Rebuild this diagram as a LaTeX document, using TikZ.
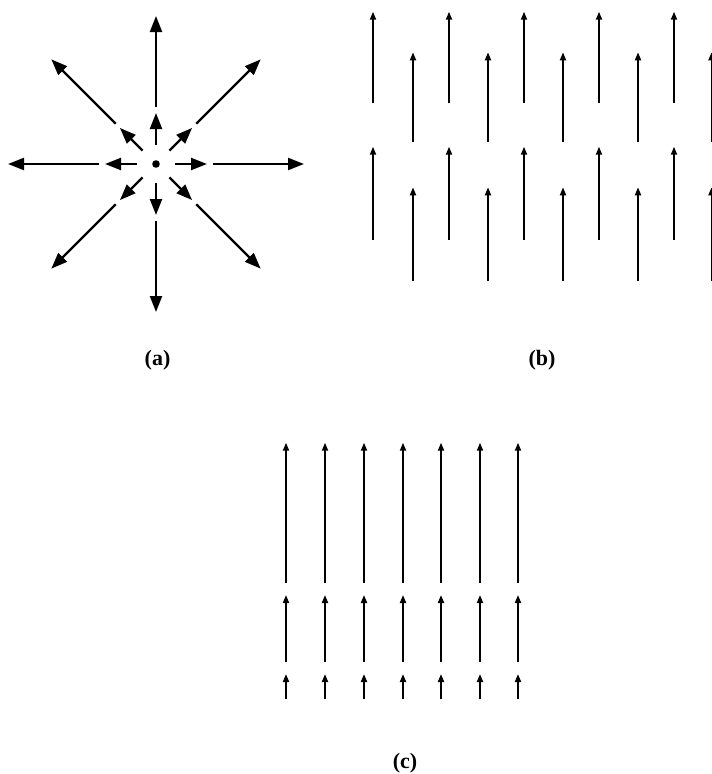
\documentclass[tikz,border=0pt]{standalone}
\usepackage{fontspec}
\setmainfont{Liberation Serif}
\usetikzlibrary{arrows.meta,calc}
\tikzset{
  bigarrow/.style={line width=2.2pt,-{Triangle[length=16pt,width=12pt]}},
  thinarrow/.style={line width=1.8pt,-{Triangle[length=8pt,width=6pt]}},
  caption/.style={font=\fontsize{22}{22}\selectfont\bfseries,inner sep=0pt}
}
\begin{document}
\begin{tikzpicture}[x=1pt,y=-1pt]
\useasboundingbox (0,0) rectangle (712,774);
\clip (0,0) rectangle (712,774);
% ---------- panel (a)
\coordinate (ca) at (156,164);
\fill (ca) circle (3.8pt);
\foreach \a in {0,45,...,315}{
  \coordinate (i1\a) at ($(ca)+(\a:19)$);
  \coordinate (i2\a) at ($(ca)+(\a:51)$);
  \coordinate (o1\a) at ($(ca)+(\a:57)$);
  \coordinate (o2\a) at ($(ca)+(\a:148)$);
  \draw[bigarrow] (i1\a) -- (i2\a);
  \draw[bigarrow] (o1\a) -- (o2\a);
}
\node[caption] (la) at (157.5,360) {(a)};
% ---------- panel (b)
\foreach \k/\xx in {0/373,1/449,2/524,3/599,4/674}{
  \coordinate (bt1s\k) at (\xx,103.3);
  \coordinate (bt1e\k) at (\xx,11.7);
  \coordinate (bt2s\k) at (\xx,240);
  \coordinate (bt2e\k) at (\xx,146.7);
  \draw[thinarrow] (bt1s\k) -- (bt1e\k);
  \draw[thinarrow] (bt2s\k) -- (bt2e\k);
}
\foreach \k/\xx in {0/413,1/488,2/563,3/638,4/711.5}{
  \coordinate (bo1s\k) at (\xx,141.7);
  \coordinate (bo1e\k) at (\xx,52.3);
  \coordinate (bo2s\k) at (\xx,281);
  \coordinate (bo2e\k) at (\xx,187.3);
  \draw[thinarrow] (bo1s\k) -- (bo1e\k);
  \draw[thinarrow] (bo2s\k) -- (bo2e\k);
}
\node[caption] (lb) at (542,360) {(b)};
% ---------- panel (c)
\foreach \k/\xx in {0/286,1/325,2/364,3/403,4/441,5/480,6/518}{
  \coordinate (c1s\k) at (\xx,582.7);
  \coordinate (c1e\k) at (\xx,442.7);
  \coordinate (c2s\k) at (\xx,661.7);
  \coordinate (c2e\k) at (\xx,595);
  \coordinate (c3s\k) at (\xx,699.3);
  \coordinate (c3e\k) at (\xx,674);
  \draw[thinarrow] (c1s\k) -- (c1e\k);
  \draw[thinarrow] (c2s\k) -- (c2e\k);
  \draw[thinarrow] (c3s\k) -- (c3e\k);
}
\node[caption] (lc) at (405,763) {(c)};
\end{tikzpicture}
\end{document}
